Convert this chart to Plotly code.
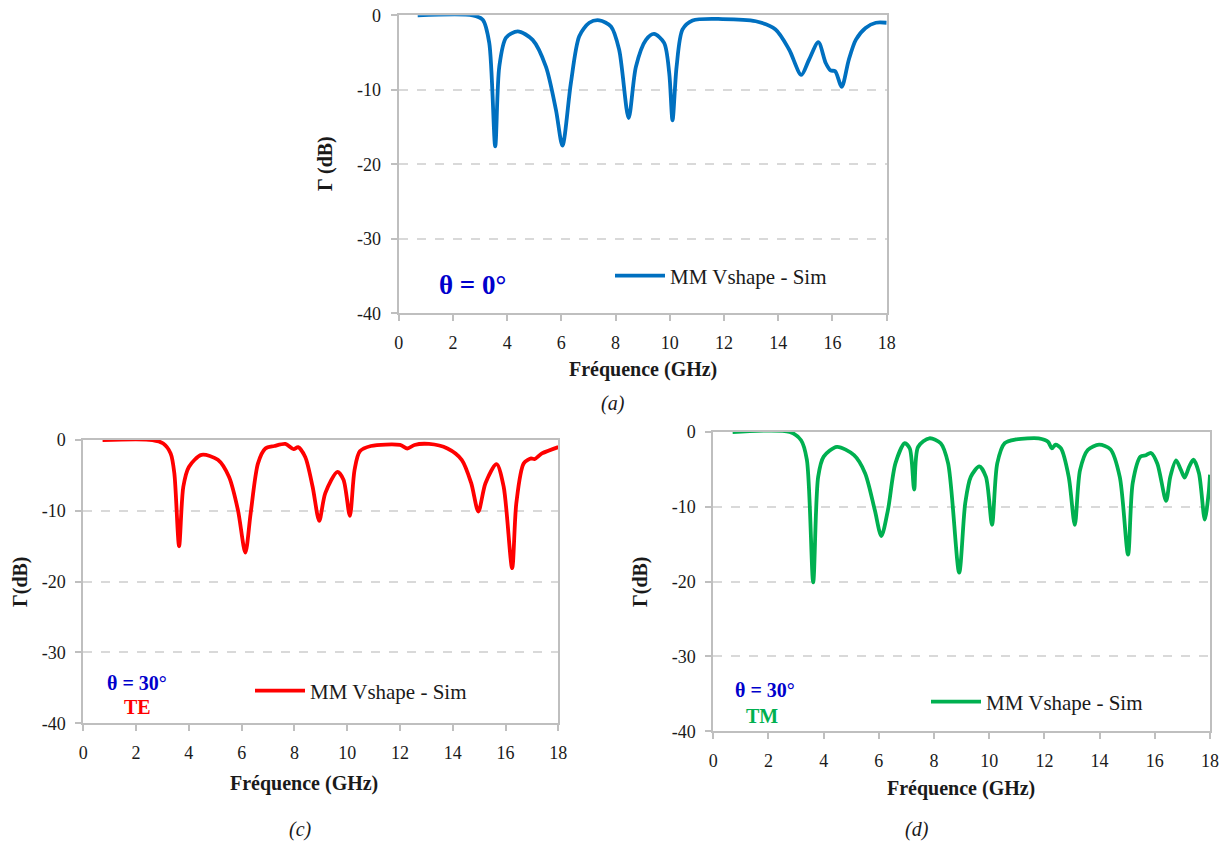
import plotly.graph_objects as go

# ---------------- data ----------------
freq_a = [0.7, 2.73, 3.1, 3.34, 3.56, 3.71, 3.96, 4.39, 4.94, 5.43, 5.8, 6.04, 6.35, 6.66, 7.03, 7.4,
          7.83, 8.13, 8.48, 8.75, 9.12, 9.42, 9.79, 9.98, 10.1, 10.25, 10.47, 10.84, 11.94, 13.17,
          13.9, 14.4, 14.85, 15.13, 15.48, 15.75, 15.93, 16.1, 16.34, 16.6, 16.86, 17.22, 17.6, 18.0]
gamma_a = [0.0, 0.0, -0.6, -3.7, -17.6, -6.9, -3.0, -2.15, -3.3, -6.9, -12.7, -17.5, -9.1, -2.8, -1.0, -0.67,
           -1.5, -4.6, -13.8, -6.9, -3.3, -2.5, -3.7, -7.8, -14.1, -6.9, -1.9, -0.7, -0.5, -0.8,
           -1.9, -4.6, -8.0, -6.0, -3.6, -6.4, -7.4, -7.5, -9.6, -6.0, -3.3, -1.7, -1.0, -1.0]

freq_c = [0.73, 2.62, 3.03, 3.31, 3.45, 3.63, 3.79, 4.0, 4.48, 5.1, 5.52, 5.86, 6.14, 6.34, 6.62, 6.9,
          7.24, 7.66, 7.97, 8.14, 8.41, 8.69, 8.94, 9.17, 9.63, 9.86, 10.1, 10.28, 10.48, 10.9, 12.0,
          12.28, 12.55, 13.1, 13.8, 14.34, 14.7, 14.97, 15.24, 15.66, 15.93, 16.25, 16.41, 16.69,
          16.97, 17.1, 17.38, 18.0]
gamma_c = [0.0, 0.0, -0.5, -1.9, -4.7, -15.0, -6.6, -3.8, -2.1, -2.8, -5.2, -9.9, -15.9, -10.4, -3.3, -1.2,
           -0.85, -0.56, -1.3, -1.0, -2.4, -6.6, -11.4, -7.5, -4.5, -5.6, -10.7, -4.2, -1.6, -0.85, -0.7,
           -1.2, -0.7, -0.56, -1.2, -2.8, -6.1, -10.1, -6.1, -3.4, -6.6, -18.1, -8.9, -3.3,
           -2.6, -2.7, -1.9, -1.0]

freq_d = [0.7, 2.77, 3.18, 3.39, 3.62, 3.8, 4.0, 4.48, 5.1, 5.5, 5.85, 6.09, 6.33, 6.6, 6.94, 7.12,
          7.28, 7.42, 7.83, 8.24, 8.51, 8.91, 9.13, 9.33, 9.64, 9.88, 10.1, 10.29, 10.56, 10.97,
          11.79, 12.13, 12.27, 12.4, 12.6, 12.88, 13.1, 13.29, 13.57, 13.98, 14.39, 14.73, 15.03,
          15.2, 15.48, 15.68, 15.86, 16.09, 16.41, 16.56, 16.77, 16.95, 17.08, 17.25, 17.4, 17.6,
          17.81, 17.95, 18.0]
gamma_d = [0.0, 0.0, -1.1, -3.7, -20.1, -6.0, -3.3, -2.0, -3.1, -5.5, -10.4, -13.9, -10.4, -4.2, -1.5, -2.2,
           -7.7, -2.0, -0.84, -1.5, -4.2, -18.8, -9.5, -6.0, -4.6, -6.0, -12.4, -4.2, -1.5, -1.0,
           -0.84, -1.3, -2.2, -1.7, -2.2, -6.0, -12.4, -5.1, -2.4, -1.7, -2.3, -6.0, -16.4,
           -6.8, -3.3, -3.1, -2.8, -4.2, -9.2, -6.0, -3.8, -5.1, -6.1, -4.6, -3.7, -5.5,
           -11.7, -8.2, -5.7]

x_ticks = [0, 2, 4, 6, 8, 10, 12, 14, 16, 18]
x_ticktext = ["0", "2", "4", "6", "8", "10", "12", "14", "16", "18"]
y_ticks = [0, -10, -20, -30, -40]
y_ticktext = ["0", "-10", "-20", "-30", "-40"]
series_name = "MM Vshape - Sim"

# ---------------- styles ----------------
SERIF = "Liberation Serif, Times New Roman, serif"
AXIS_GRAY = "#BFBFBF"
GRID_GRAY = "#D9D9D9"
BLUE_TXT = "#0000CC"
LW = 3.8

fig = go.Figure()
fig.add_trace(go.Scatter(x=freq_a, y=gamma_a, mode="lines", name=series_name,
                         line=dict(color="#0070C0", width=LW, shape="spline", smoothing=0.8),
                         xaxis="x", yaxis="y", legend="legend"))
fig.add_trace(go.Scatter(x=freq_c, y=gamma_c, mode="lines", name=series_name,
                         line=dict(color="#FF0000", width=LW, shape="spline", smoothing=0.8),
                         xaxis="x2", yaxis="y2", legend="legend2"))
fig.add_trace(go.Scatter(x=freq_d, y=gamma_d, mode="lines", name=series_name,
                         line=dict(color="#00B050", width=LW, shape="spline", smoothing=0.8),
                         xaxis="x3", yaxis="y3", legend="legend3"))

W, H = 1230, 843


def px(x):
    return x / W


def py(y):
    return 1 - y / H


def xaxis_cfg(domain, anchor):
    return dict(domain=domain, anchor=anchor, range=[0, 18], tickvals=x_ticks, ticktext=x_ticktext,
                showline=True, linecolor=AXIS_GRAY, linewidth=2, mirror=True,
                ticks="outside", ticklen=6, tickcolor=AXIS_GRAY, tickwidth=2,
                showgrid=False, zeroline=False, ticklabelstandoff=6, automargin=False,
                tickfont=dict(family=SERIF, size=18, color="#1a1a1a"))


def yaxis_cfg(domain, anchor):
    return dict(domain=domain, anchor=anchor, range=[-40, 0], tickvals=y_ticks, ticktext=y_ticktext,
                showline=True, linecolor=AXIS_GRAY, linewidth=2, mirror=True,
                ticks="outside", ticklen=6, tickcolor=AXIS_GRAY, tickwidth=2,
                showgrid=True, gridcolor=GRID_GRAY, gridwidth=1.5, griddash="dash",
                zeroline=False, ticklabelstandoff=6, automargin=False,
                tickfont=dict(family=SERIF, size=18, color="#1a1a1a"))


def legend_cfg(x, y):
    return dict(x=x, y=y, xanchor="left", yanchor="middle", bgcolor="rgba(0,0,0,0)",
                font=dict(family=SERIF, size=21, color="#1a1a1a"), itemwidth=50,
                tracegroupgap=0)


fig.update_layout(
    width=W, height=H, margin=dict(l=0, r=0, t=0, b=0, pad=0),
    font=dict(family=SERIF, color="#1a1a1a"),
    paper_bgcolor="white", plot_bgcolor="white", showlegend=True,
    xaxis=xaxis_cfg([px(398.7), px(886.7)], "y"),
    yaxis=yaxis_cfg([py(313.3), py(15.3)], "x"),
    xaxis2=xaxis_cfg([px(83.3), px(558.3)], "y2"),
    yaxis2=yaxis_cfg([py(723.3), py(440)], "x2"),
    xaxis3=xaxis_cfg([px(713.3), px(1210)], "y3"),
    yaxis3=yaxis_cfg([py(731.3), py(432)], "x3"),
    legend=legend_cfg(px(610), py(276)),
    legend2=legend_cfg(px(250), py(691)),
    legend3=legend_cfg(px(926), py(702)),
)


def ann(text, x, y, size, color="#1a1a1a", bold=False, italic=False, angle=0):
    t = text
    if bold:
        t = "<b>" + t + "</b>"
    if italic:
        t = "<i>" + t + "</i>"
    fig.add_annotation(text=t, x=px(x), y=py(y), xref="paper", yref="paper",
                       xanchor="center", yanchor="middle", showarrow=False, textangle=angle,
                       font=dict(family=SERIF, size=size, color=color))


# panel (a)
ann("Γ (dB)", 325, 164, 20, bold=True, angle=-90)
ann("Fréquence (GHz)", 643, 370, 20, bold=True)
ann("(a)", 613, 403, 20, italic=True)
ann("θ = 0°", 472, 285, 27, color=BLUE_TXT, bold=True)
# panel (c)
ann("Γ(dB)", 20, 582, 20, bold=True, angle=-90)
ann("Fréquence (GHz)", 304, 783, 20, bold=True)
ann("(c)", 300, 829, 20, italic=True)
ann("θ = 30°", 137, 683, 20, color=BLUE_TXT, bold=True)
ann("TE", 137, 707, 20, color="#FF0000", bold=True)
# panel (d)
ann("Γ(dB)", 640, 582, 20, bold=True, angle=-90)
ann("Fréquence (GHz)", 961, 788, 20, bold=True)
ann("(d)", 917, 829, 20, italic=True)
ann("θ = 30°", 765, 690, 20, color=BLUE_TXT, bold=True)
ann("TM", 762, 716, 20, color="#00B050", bold=True)

fig.write_html(
    "out.html",
    config={"displayModeBar": False},
    post_script="document.documentElement.style.margin='0';"
                "document.body.style.margin='0';document.body.style.overflow='hidden';",
)
